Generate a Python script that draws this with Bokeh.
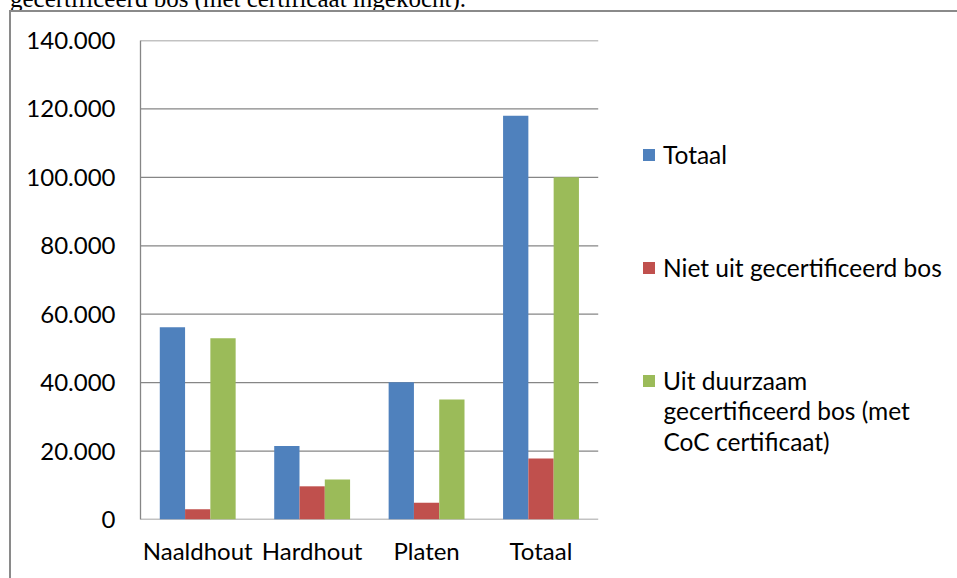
from bokeh.plotting import figure
from bokeh.models import (Range1d, FixedTicker, Legend, LegendItem,
                          Label, ColumnDataSource, Div)
from bokeh.layouts import column
from bokeh.transform import dodge
from bokeh.embed import file_html
from bokeh.resources import INLINE

categories = ["Naaldhout", "Hardhout", "Platen", "Totaal"]
totaal = [56200, 21500, 40100, 118000]
niet_gecertificeerd = [3000, 9700, 4900, 17800]
duurzaam_gecertificeerd = [53000, 11700, 35100, 100000]
series_names = ["Totaal", "Niet uit gecertificeerd bos", "Uit duurzaam"]
legend_extra_lines = ["gecertificeerd bos (met", "CoC certificaat)"]
colors = ["#4F81BD", "#C0504D", "#9BBB59"]
y_ticks = [0, 20000, 40000, 60000, 80000, 100000, 120000, 140000]
y_tick_labels = ["0", "20.000", "40.000", "60.000", "80.000", "100.000", "120.000", "140.000"]
header_text = "gecertificeerd bos (met certificaat ingekocht)."

FONT = "Lato"
GRAY = "#868686"
W = 957
HEADER_H = 10
H = 578 - HEADER_H
LEFT, TOP, FRAME_H = 140, 30, 479

# partially visible line of document text above the chart (cut off like the reference)
header = Div(text=('<div style="position:relative; top:-14px; padding-left:10px; '
                   'font-family:\'Liberation Serif\'; font-size:25px; line-height:25px; '
                   'white-space:nowrap; color:black;">' + header_text + '</div>'),
             width=W, height=HEADER_H, margin=0,
             styles={"overflow": "hidden", "background-color": "white"})

n = len(categories)
centers = [i + 0.5 for i in range(n)]
source = ColumnDataSource(data=dict(x=centers, totaal=totaal,
                                    niet=niet_gecertificeerd,
                                    duurzaam=duurzaam_gecertificeerd))

# 114.4 px per category; the frame continues to the right to host the legend
fig = figure(width=W, height=H, x_range=Range1d(0, (W - LEFT) / 114.43),
             y_range=Range1d(0, 140000),
             output_backend="svg", toolbar_location=None,
             min_border_left=LEFT, min_border_right=0, min_border_top=TOP,
             min_border_bottom=H - TOP - FRAME_H)
fig.outline_line_color = None
fig.background_fill_color = "white"
fig.border_fill_color = None
fig.styles = {
    "background-color": "white",
    "background-image": "linear-gradient(#8a8a8a, #8a8a8a), linear-gradient(#8a8a8a, #8a8a8a)",
    "background-size": "2px 100%, 100% 2px",
    "background-position": "9px 0px, 9px 0px",
    "background-repeat": "no-repeat",
}

# horizontal gridlines (only across the plotting area)
fig.segment(x0=0, x1=n, y0=y_ticks, y1=y_ticks, line_color=GRAY, line_width=1.3)
fig.xgrid.grid_line_color = None
fig.ygrid.grid_line_color = None

bw = 0.221
r1 = fig.vbar(x=dodge("x", -bw), top="totaal", width=bw, source=source,
              fill_color=colors[0], line_color=None)
r2 = fig.vbar(x=dodge("x", 0), top="niet", width=bw, source=source,
              fill_color=colors[1], line_color=None)
r3 = fig.vbar(x=dodge("x", bw), top="duurzaam", width=bw, source=source,
              fill_color=colors[2], line_color=None)

fig.yaxis.ticker = FixedTicker(ticks=y_ticks)
fig.yaxis.major_label_overrides = {t: l for t, l in zip(y_ticks, y_tick_labels)}
fig.xaxis.ticker = FixedTicker(ticks=centers)
fig.xaxis.major_label_overrides = {c: l for c, l in zip(centers, categories)}
for ax in (fig.xaxis, fig.yaxis):
    ax.axis_line_color = GRAY
    ax.axis_line_width = 1.3
    ax.major_tick_line_color = None
    ax.minor_tick_line_color = None
    ax.major_tick_out = 0
    ax.major_tick_in = 0
    ax.major_label_text_font = FONT
    ax.major_label_text_font_size = "24px"
    ax.major_label_text_color = "black"
fig.xaxis.axis_line_color = None
fig.yaxis.major_label_standoff = 25
fig.xaxis.major_label_standoff = 16

legend = Legend(items=[LegendItem(label=series_names[0], renderers=[r1]),
                       LegendItem(label=series_names[1], renderers=[r2]),
                       LegendItem(label=series_names[2], renderers=[r3])],
                location=(501, 124), padding=0, margin=0, spacing=84,
                glyph_width=15, glyph_height=15, label_standoff=7,
                label_text_font=FONT, label_text_font_size="24.5px",
                label_text_color="black",
                border_line_color=None, background_fill_alpha=0)
fig.add_layout(legend, "center")

for k, line in enumerate(legend_extra_lines):
    fig.add_layout(Label(x=523, y=109 - 31 * k, x_units="screen", y_units="screen",
                         text=line, text_font=FONT, text_font_size="24.5px",
                         text_baseline="middle", text_color="black"))

p = column(header, fig, spacing=0)

open("out.html", "w").write(file_html(p, INLINE))
